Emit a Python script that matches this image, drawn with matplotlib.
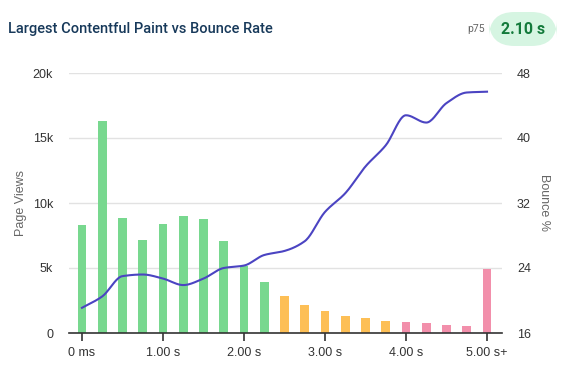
import numpy as np
import matplotlib
matplotlib.use("Agg")
import matplotlib.pyplot as plt
from matplotlib.patches import FancyBboxPatch

# ---- data ----
bins = [0.0, 0.25, 0.5, 0.75, 1.0, 1.25, 1.5, 1.75, 2.0, 2.25, 2.5, 2.75, 3.0,
        3.25, 3.5, 3.75, 4.0, 4.25, 4.5, 4.75, 5.0]
page_views = [8280, 16280, 8820, 7130, 8360, 8970, 8770, 7050, 5180, 3900, 2840,
              2150, 1690, 1310, 1150, 920, 850, 770, 620, 540, 4900]
bounce = [19.1, 20.5, 23.0, 23.2, 22.7, 21.9, 22.7, 24.0, 24.3, 25.6, 26.1, 27.3,
          30.9, 33.2, 36.5, 39.1, 42.8, 41.9, 44.3, 45.6, 45.7]
bar_colors = ["#78d88f"] * 10 + ["#fdbf56"] * 6 + ["#f28fab"] * 5
x_ticks = [0, 1, 2, 3, 4, 5]
x_labels = ["0 ms", "1.00 s", "2.00 s", "3.00 s", "4.00 s", "5.00 s+"]
y_ticks = [0, 5000, 10000, 15000, 20000]
y_labels = ["0", "5k", "10k", "15k", "20k"]
y2_ticks = [16, 24, 32, 40, 48]
title = "Largest Contentful Paint vs Bounce Rate"
p75_value = "2.10 s"


def monotone(x, y, xs):
    x = np.asarray(x, float); y = np.asarray(y, float)
    h = np.diff(x); d = np.diff(y) / h
    n = len(x); m = np.zeros(n)
    m[0] = d[0]; m[-1] = d[-1]
    for i in range(1, n - 1):
        if d[i - 1] * d[i] <= 0:
            m[i] = 0
        else:
            w1 = 2 * h[i] + h[i - 1]; w2 = h[i] + 2 * h[i - 1]
            m[i] = (w1 + w2) / (w1 / d[i - 1] + w2 / d[i])
    idx = np.clip(np.searchsorted(x, xs) - 1, 0, n - 2)
    t = (xs - x[idx]) / h[idx]
    h00 = 2 * t**3 - 3 * t**2 + 1; h10 = t**3 - 2 * t**2 + t
    h01 = -2 * t**3 + 3 * t**2; h11 = t**3 - t**2
    return (h00 * y[idx] + h10 * h[idx] * m[idx] + h01 * y[idx + 1]
            + h11 * h[idx] * m[idx + 1])


FS = 9
fig = plt.figure(figsize=(5.67, 3.74), dpi=100)
ax = fig.add_axes([69 / 567, 41 / 374, 433 / 567, 260 / 374])
ax2 = ax.twinx()

ax.bar(bins, page_views, width=0.11, color=bar_colors, zorder=2)
ax.set_xlim(-0.16, 5.185)
ax.set_ylim(0, 20000)
ax.set_yticks(y_ticks)
ax.set_yticklabels(y_labels)
ax.set_xticks(x_ticks)
ax.set_xticklabels(x_labels)
ax.grid(axis="y", color="#e2e2e2", linewidth=1, zorder=0)
ax.set_axisbelow(True)
for s in ["top", "right", "left"]:
    ax.spines[s].set_visible(False)
    ax2.spines[s].set_visible(False)
ax2.spines["bottom"].set_visible(False)
ax.spines["bottom"].set_color("#333333")
ax.spines["bottom"].set_linewidth(1.2)
ax.tick_params(axis="x", length=6, width=1.2, color="#333333", pad=4,
               labelsize=FS, labelcolor="#333333")
ax.tick_params(axis="y", length=0, pad=11.5, labelsize=FS, labelcolor="#333333")
ax.set_ylabel("Page Views", fontsize=FS, color="#666666", labelpad=4)

xs = np.linspace(bins[0], bins[-1], 400)
ax2.plot(xs, monotone(bins, bounce, xs), color="#4b44c2", linewidth=1.5, zorder=3)
ax2.set_ylim(16, 48)
ax2.set_yticks(y2_ticks)
ax2.tick_params(axis="y", length=0, pad=10.8, labelsize=FS, labelcolor="#333333")
ax2.set_ylabel("Bounce %", fontsize=FS, color="#666666", rotation=270, labelpad=14)

for t in ax.get_xticklabels() + ax.get_yticklabels() + ax2.get_yticklabels():
    t.set_fontfamily("Liberation Sans")
ax.yaxis.label.set_fontfamily("Liberation Sans")
ax2.yaxis.label.set_fontfamily("Liberation Sans")

fig.text(8 / 567, 1 - 29 / 374, title, fontsize=10.5, fontweight="medium",
         family="Roboto", color="#17395a", va="center", ha="left")
fig.text(485 / 567, 1 - 29 / 374, "p75", fontsize=7.5, family="Roboto",
         color="#666666", va="center", ha="right")
badge = FancyBboxPatch((489 / 567, 1 - 46 / 374), 68 / 567, 34 / 374,
                       boxstyle="round,pad=0,rounding_size=0.045",
                       transform=fig.transFigure, facecolor="#d6f5e2",
                       edgecolor="none", mutation_aspect=567 / 374)
fig.patches.append(badge)
fig.text(523 / 567, 1 - 29 / 374, p75_value, fontsize=11.5, fontweight="bold",
         family="Roboto", color="#137a3b", va="center", ha="center")

fig.savefig("out.png", dpi=100)
